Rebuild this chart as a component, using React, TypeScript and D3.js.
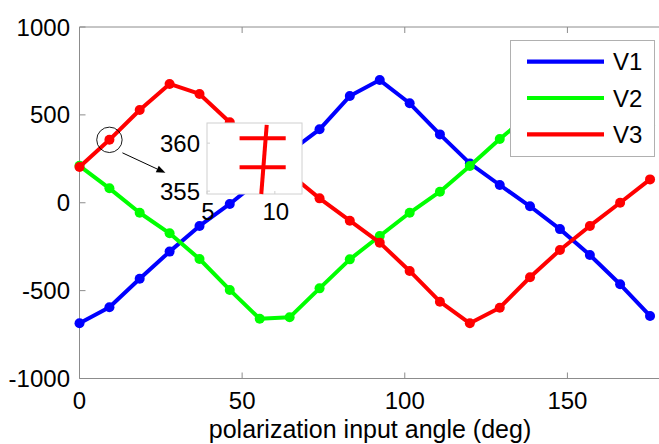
import React from 'react';
import * as d3 from 'd3';

const angles = [0, 9.2, 18.5, 27.7, 36.9, 46.2, 55.4, 64.6, 73.8, 83.1, 92.3, 101.5, 110.8, 120.0, 129.2, 138.5, 147.7, 156.9, 166.2, 175.4];
const v1 = [-686, -595, -432, -278, -132, -7, 130, 290, 418, 607, 698, 566, 389, 224, 101, -20, -150, -297, -464, -644];
const v2 = [210, 82, -57, -174, -320, -496, -660, -652, -487, -322, -189, -57, 63, 209, 363, 505, 640, 690, 600, 440];
const v3 = [203, 358, 528, 676, 619, 458, 310, 165, 25, -102, -227, -388, -563, -686, -597, -424, -269, -132, 0, 133];
const seriesNames = ['V1', 'V2', 'V3'];
const seriesValues = [v1, v2, v3];
const seriesColors = ['#0000ff', '#00ff00', '#ff0000'];
const xTicks = [0, 50, 100, 150];
const yTicks = [-1000, -500, 0, 500, 1000];
const xLabel = 'polarization input angle (deg)';

// inset (zoom of the V3 point at ~9 deg)
const insetXTicks = [5, 10];
const insetYTicks = [355, 360];
const insetBarValues = [360.5, 357.5];
const insetBarSpan = [7.4, 10.8];
const insetStemX = [9.4, 9.0];
const insetStemY = [361.9, 354.7];

const FONT = '"Liberation Sans", Arial, Helvetica, sans-serif';
const AXIS = '#8c8c8c';

export default function App() {
  const W = 659, H = 444;
  const x = d3.scaleLinear().domain([0, 180]).range([79.5, 665]);
  const y = d3.scaleLinear().domain([-1000, 1000]).range([378.5, 27]);
  const [x0, x1] = x.range();
  const [y0, y1] = y.range();
  const line = d3.line<number>().x((_, i) => x(angles[i])).y((d) => y(d));

  const ix = d3.scaleLinear().domain([5, 12]).range([207, 302]);
  const iy = d3.scaleLinear().domain([354.7, 362.1]).range([194, 123]);

  const cx = x(angles[1]);
  const cy = y(v3[1]);
  const cr = 12.7;
  const arrowStart = [cx + 13, cy + 13];
  const arrowEnd = [cx + 56, cy + 33];
  const ang = Math.atan2(arrowEnd[1] - arrowStart[1], arrowEnd[0] - arrowStart[0]);
  const ah = 9, aw = 3.5;
  const headBase = [arrowEnd[0] - ah * Math.cos(ang), arrowEnd[1] - ah * Math.sin(ang)];
  const headPts = [
    arrowEnd,
    [headBase[0] + aw * Math.sin(ang), headBase[1] - aw * Math.cos(ang)],
    [headBase[0] - aw * Math.sin(ang), headBase[1] + aw * Math.cos(ang)],
  ].map((p) => p.join(',')).join(' ');

  const legX0 = 510.5, legY0 = 40.5, legW = 144, legH = 116;

  return (
    <svg width={W} height={H} style={{ position: 'absolute', left: 0, top: 0, background: '#fff' }} fontFamily={FONT}>
      <rect x={0} y={0} width={W} height={H} fill="#fff" />
      {/* axes box */}
      <line x1={x0} x2={x0} y1={y0} y2={y1} stroke={AXIS} strokeWidth={1} />
      <line x1={x0} x2={x1} y1={y0} y2={y0} stroke={AXIS} strokeWidth={1} />
      <line x1={x0} x2={x1} y1={y1} y2={y1} stroke={AXIS} strokeWidth={1} />
      <line x1={x1} x2={x1} y1={y0} y2={y1} stroke={AXIS} strokeWidth={1} />
      {xTicks.map((t) => (
        <g key={'xt' + t}>
          <line x1={x(t)} x2={x(t)} y1={y0} y2={y0 - 6} stroke={AXIS} />
          <line x1={x(t)} x2={x(t)} y1={y1} y2={y1 + 6} stroke={AXIS} />
          <text x={x(t)} y={409} textAnchor="middle" fontSize={24} fill="#000">{t}</text>
        </g>
      ))}
      {yTicks.map((t) => (
        <g key={'yt' + t}>
          <line x1={x0} x2={x0 + 6} y1={y(t)} y2={y(t)} stroke={AXIS} />
          <line x1={x1} x2={x1 - 6} y1={y(t)} y2={y(t)} stroke={AXIS} />
          <text x={70} y={y(t) + 8.5} textAnchor="end" fontSize={24} fill="#000">{t}</text>
        </g>
      ))}
      <text x={370} y={438} textAnchor="middle" fontSize={25} fill="#000">{xLabel}</text>

      {/* series */}
      {seriesValues.map((vals, s) => (
        <g key={'s' + s}>
          <path d={line(vals) || ''} fill="none" stroke={seriesColors[s]} strokeWidth={4} strokeLinejoin="round" />
          {vals.map((v, i) => (
            <circle key={i} cx={x(angles[i])} cy={y(v)} r={5} fill={seriesColors[s]} />
          ))}
        </g>
      ))}

      {/* inset */}
      <rect x={ix(5)} y={iy(362.1)} width={ix(12) - ix(5)} height={iy(354.7) - iy(362.1)} fill="#fff" stroke="#d0d0d0" strokeWidth={1} />
      {insetYTicks.map((t) => (
        <g key={'iyt' + t}>
          <line x1={ix(5)} x2={ix(5) + 3} y1={iy(t)} y2={iy(t)} stroke="#d0d0d0" />
          <text x={200} y={iy(t) + 8.5} textAnchor="end" fontSize={24} fill="#000">{t}</text>
        </g>
      ))}
      {insetXTicks.map((t) => (
        <g key={'ixt' + t}>
          <line x1={ix(t)} x2={ix(t)} y1={iy(354.7)} y2={iy(354.7) - 3} stroke="#d0d0d0" />
          <text x={ix(t) + 1} y={220} textAnchor="middle" fontSize={24} fill="#000">{t}</text>
        </g>
      ))}
      {insetBarValues.map((v, i) => (
        <line key={'ib' + i} x1={ix(insetBarSpan[0])} x2={ix(insetBarSpan[1])} y1={iy(v)} y2={iy(v)} stroke="#ff0000" strokeWidth={4} />
      ))}
      <line x1={ix(insetStemX[0])} y1={iy(insetStemY[0])} x2={ix(insetStemX[1])} y2={iy(insetStemY[1])} stroke="#ff0000" strokeWidth={4} />

      {/* annotation */}
      <circle cx={cx} cy={cy} r={cr} fill="none" stroke="#000" strokeWidth={0.9} />
      <line x1={arrowStart[0]} y1={arrowStart[1]} x2={headBase[0]} y2={headBase[1]} stroke="#000" strokeWidth={1} />
      <polygon points={headPts} fill="#000" />

      {/* legend */}
      <rect x={legX0} y={legY0} width={legW} height={legH} fill="#fff" stroke="#b0b0b0" strokeWidth={1} />
      {seriesNames.map((n, i) => (
        <g key={'lg' + n}>
          <line x1={527} x2={604} y1={61.7 + i * 36.3} y2={61.7 + i * 36.3} stroke={seriesColors[i]} strokeWidth={4.2} />
          <text x={613} y={61.7 + i * 36.3 + 8.6} fontSize={24} fill="#000">{n}</text>
        </g>
      ))}
    </svg>
  );
}
